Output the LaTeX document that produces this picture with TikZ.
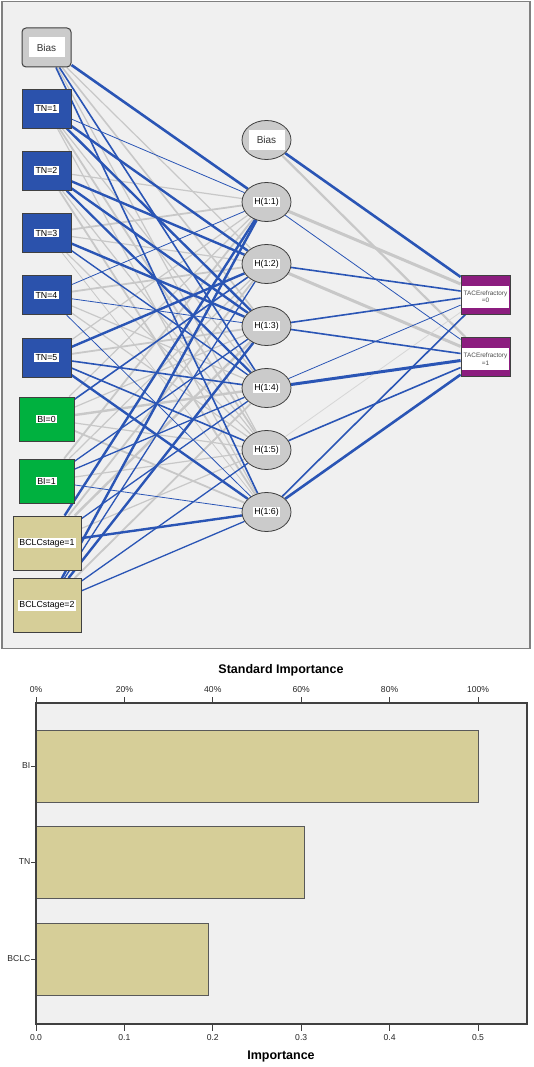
\documentclass[tikz,border=0pt]{standalone}
\usepackage{fontspec}
\setmainfont{Liberation Sans}
\usetikzlibrary{shapes.geometric}
\pgfdeclarelayer{bg}
\pgfdeclarelayer{edges}
\pgfsetlayers{bg,edges,main}
\definecolor{bgc}{HTML}{F0F0F0}
\definecolor{wblue}{HTML}{2A55B5}
\definecolor{wgray}{HTML}{C8C8C8}
\definecolor{wlgray}{HTML}{D6D6D6}
\definecolor{tnblue}{HTML}{2B52AC}
\definecolor{bigreen}{HTML}{00B13F}
\definecolor{bclc}{HTML}{D6CE98}
\definecolor{outp}{HTML}{8C1D7F}
\definecolor{nodegray}{HTML}{CBCBCB}
\definecolor{dk}{HTML}{404040}
\tikzset{
  innode/.style={rectangle, draw=dk, line width=0.8pt, minimum width=49pt, minimum height=39pt, inner sep=0pt},
  biasin/.style={innode, fill=nodegray, rounded corners=4pt, line width=1pt},
  tnbox/.style={innode, fill=tnblue},
  bibox/.style={innode, fill=bigreen, minimum width=55pt, minimum height=44pt},
  bclcbox/.style={innode, fill=bclc, minimum width=68pt, minimum height=54pt},
  hid/.style={ellipse, draw=dk, line width=0.8pt, fill=nodegray, minimum width=49pt, minimum height=39pt, inner sep=0pt},
  outbox/.style={innode, fill=outp},
  lbl/.style={fill=white, inner sep=1.2pt, font=\fontsize{8.8}{9.5}\selectfont, text=black},
  biaslbl/.style={fill=white, inner sep=0pt, minimum width=36pt, minimum height=20pt, font=\fontsize{10}{11}\selectfont, text=black!80},
  outlbl/.style={fill=white, inner sep=0pt, minimum width=47pt, minimum height=22pt, align=center, font=\fontsize{6.4}{7.4}\selectfont, text=black!70},
  axlbl/.style={font=\fontsize{8.6}{9.5}\selectfont, text=black!85},
  ttl/.style={font=\bfseries\fontsize{12.5}{13.5}\selectfont}
}
\begin{document}
\begin{tikzpicture}[x=1pt,y=-1pt]
\useasboundingbox (0,0) rectangle (533,1067);
\begin{pgfonlayer}{bg}
\fill[white] (0,0) rectangle (533,1067);
\draw[fill=bgc, draw=black!50, line width=1.5pt] (2,1.5) rectangle (530,648.5);
\end{pgfonlayer}

% input layer
\node[biasin] (i0) at (46.5,47.5) {};
\node[biaslbl] (i0l) at (i0) {Bias};
\foreach \n/\y/\t in {i1/108.5/TN=1, i2/170.75/TN=2, i3/233/TN=3, i4/295.25/TN=4, i5/357.5/TN=5}{
  \node[tnbox] (\n) at (46.5,\y) {};
  \node[lbl] (\n l) at (\n) {\t};
}
\node[bibox] (i6) at (46.5,419) {};
\node[lbl] (i6l) at (i6) {BI=0};
\node[bibox] (i7) at (46.5,481) {};
\node[lbl] (i7l) at (i7) {BI=1};
\node[bclcbox] (i8) at (47,543) {};
\node[lbl] (i8l) at (i8) {BCLCstage=1};
\node[bclcbox] (i9) at (47,605.5) {};
\node[lbl] (i9l) at (i9) {BCLCstage=2};

% hidden layer
\node[hid] (h0) at (266.5,140) {};
\node[biaslbl] (h0l) at (h0) {Bias};
\foreach \n/\y/\t in {h1/202/H(1:1), h2/264/H(1:2), h3/326/H(1:3), h4/388/H(1:4), h5/450/H(1:5), h6/512/H(1:6)}{
  \node[hid] (\n) at (266.5,\y) {};
  \node[lbl] (\n l) at (\n) {\t};
}

% output layer
\node[outbox] (o1) at (485.5,294.5) {};
\node[outlbl, yshift=-2pt] (o1l) at (o1) {TACErefractory\\=0};
\node[outbox] (o2) at (485.5,357) {};
\node[outlbl, yshift=-2pt] (o2l) at (o2) {TACErefractory\\=1};

% connections
\begin{pgfonlayer}{edges}
\foreach \a/\b/\w in {i0/h2/1.2, i0/h3/1.6, i0/h5/1.2,
  i1/h4/1.2, i1/h5/1.8, i1/h6/1.2,
  i2/h1/1.2, i2/h5/1.2, i2/h6/1.8,
  i3/h1/1.8, i3/h2/1.2, i3/h5/1.2, i3/h6/0.8,
  i4/h2/1.8, i4/h4/1.2, i4/h5/1.2,
  i5/h1/1.2, i5/h3/1.8,
  i6/h1/1.2, i6/h3/1.2, i6/h4/2.4, i6/h5/1.2, i6/h6/1.8,
  i7/h1/1.8, i7/h2/1.2, i7/h5/1.2,
  i8/h2/1.8, i8/h3/2.4, i8/h5/1.2,
  i9/h4/1.8,
  h0/o2/2.2, h1/o1/3, h2/o2/3}
  \draw[wgray, line width=\w pt] (\a) -- (\b);
\draw[wlgray, line width=0.8pt] (h5) -- (o1);
\foreach \a/\b/\w in {i0/h1/2.6, i0/h4/1.6, i0/h6/1.6,
  i1/h1/0.8, i1/h2/2.4, i1/h3/2.4,
  i2/h2/2.4, i2/h3/2.4, i2/h4/2.2,
  i3/h3/2.4, i3/h4/1.4,
  i4/h1/0.8, i4/h3/0.8, i4/h6/0.8,
  i5/h2/2.4, i5/h4/1.6, i5/h5/1.6, i5/h6/2.4,
  i6/h2/1.6,
  i7/h3/1.3, i7/h4/1.3, i7/h6/0.8,
  i8/h1/2.4, i8/h4/1.3, i8/h6/2.4,
  i9/h1/2.4, i9/h2/1.3, i9/h3/2.4, i9/h5/1.3, i9/h6/1.3,
  h0/o1/2.6, h1/o2/0.8, h2/o1/1.6, h3/o1/1.6, h3/o2/1.6,
  h4/o1/0.8, h4/o2/3, h5/o2/1.6, h6/o1/1.6, h6/o2/2.6}
  \draw[wblue, line width=\w pt] (\a) -- (\b);
\end{pgfonlayer}

% importance chart
\node[ttl] (t1) at (281,670) {Standard Importance};
\draw[fill=bgc, draw=dk, line width=1.2pt] (36,703) rectangle (527,1024);
\foreach \k/\p/\v in {0/0\%/0.0, 1/20\%/0.1, 2/40\%/0.2, 3/60\%/0.3, 4/80\%/0.4, 5/100\%/0.5}{
  \draw[dk, line width=1pt] (36+88.4*\k,703) -- (36+88.4*\k,696.5);
  \node[axlbl] (tp\k) at (36+88.4*\k,690) {\p};
  \draw[dk, line width=1pt] (36+88.4*\k,1024) -- (36+88.4*\k,1030.5);
  \node[axlbl] (bt\k) at (36+88.4*\k,1037.5) {\v};
}
\draw[fill=bclc, draw=black!65, line width=0.8pt] (36,730) rectangle (478,802);
\draw[fill=bclc, draw=black!65, line width=0.8pt] (36,826) rectangle (304,898);
\draw[fill=bclc, draw=black!65, line width=0.8pt] (36,923) rectangle (208,995);
\draw[dk, line width=1.2pt] (36,703) -- (36,1024);
\foreach \n/\y/\t in {c1/766/BI, c2/862/TN, c3/959/BCLC}{
  \draw[dk, line width=1pt] (31,\y) -- (36,\y);
  \node[axlbl, anchor=east, inner sep=0.5pt] (\n) at (31,\y) {\t};
}
\node[ttl] (t2) at (281,1056) {Importance};
\end{tikzpicture}
\end{document}
